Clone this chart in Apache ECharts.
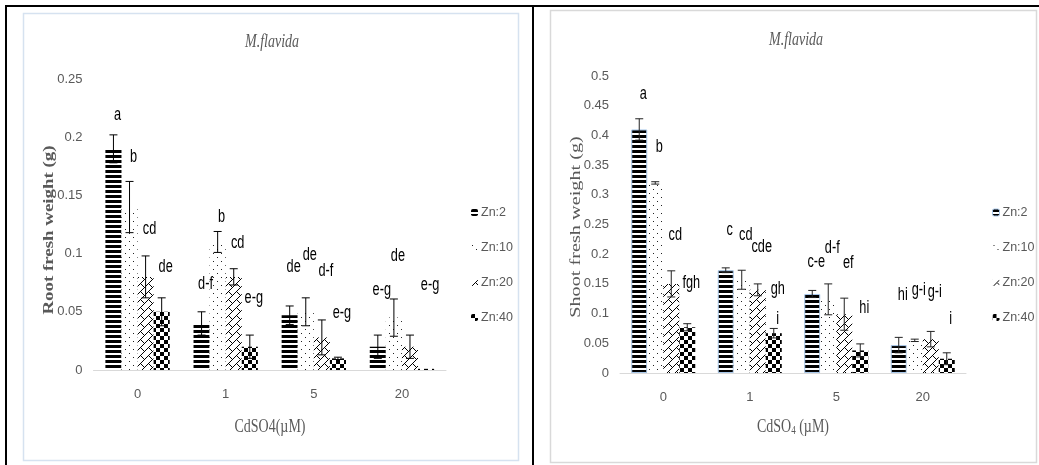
<!DOCTYPE html>
<html>
<head>
<meta charset="utf-8">
<script src="https://cdn.jsdelivr.net/npm/echarts@6/dist/echarts.min.js"></script>
<style>
  html, body { margin: 0; padding: 0; background: #fff; }
  #chart { width: 1039px; height: 465px; }
</style>
</head>
<body>
<div id="chart"></div>
<script>
// Cd treatment levels (x categories) and Zn treatment levels (series)
const cdLevels = ['0', '1', '5', '20'];
const znLevels = ['Zn:2', 'Zn:10', 'Zn:20', 'Zn:40'];

// Root fresh weight (g), mean per Cd level
const rootZn2  = [0.190, 0.040, 0.047, 0.020];
const rootZn10 = [0.140, 0.110, 0.050, 0.045];
const rootZn20 = [0.080, 0.080, 0.028, 0.020];
const rootZn40 = [0.050, 0.020, 0.010, 0.001];
// Root fresh weight error
const rootErr2  = [0.012, 0.010, 0.008, 0.010];
const rootErr10 = [0.022, 0.009, 0.012, 0.016];
const rootErr20 = [0.018, 0.007, 0.015, 0.010];
const rootErr40 = [0.012, 0.010, 0.001, 0.000];

// Shoot fresh weight (g), mean per Cd level
const shootZn2  = [0.410, 0.173, 0.133, 0.047];
const shootZn10 = [0.320, 0.157, 0.124, 0.055];
const shootZn20 = [0.150, 0.140, 0.099, 0.057];
const shootZn40 = [0.077, 0.067, 0.038, 0.024];
// Shoot fresh weight error
const shootErr2  = [0.018, 0.004, 0.006, 0.013];
const shootErr10 = [0.002, 0.016, 0.026, 0.002];
const shootErr20 = [0.022, 0.010, 0.027, 0.013];
const shootErr40 = [0.006, 0.008, 0.011, 0.010];

// Significance letters: [Cd index, Zn index, height (g), letters]
const rootLetters = [
  [0, 0, 0.219, 'a'], [0, 1, 0.183, 'b'], [0, 2, 0.121, 'cd'], [0, 3, 0.0885, 'de'],
  [1, 0, 0.074, 'd-f'], [1, 1, 0.132, 'b'], [1, 2, 0.109, 'cd'], [1, 3, 0.062, 'e-g'],
  [2, 0, 0.089, 'de'], [2, 1, 0.099, 'de'], [2, 2, 0.085, 'd-f'], [2, 3, 0.049, 'e-g'],
  [3, 0, 0.069, 'e-g'], [3, 1, 0.098, 'de'], [3, 3, 0.073, 'e-g']
];
const shootLetters = [
  [0, 0, 0.470, 'a'], [0, 1, 0.380, 'b'], [0, 2, 0.232, 'cd'], [0, 3, 0.152, 'fgh'],
  [1, 0, 0.241, 'c'], [1, 1, 0.232, 'cd'], [1, 2, 0.212, 'cde'], [1, 3, 0.141, 'gh'], [1, 3, 0.092, 'i'],
  [2, 0, 0.187, 'c-e'], [2, 1, 0.210, 'd-f'], [2, 2, 0.185, 'ef'], [2, 3, 0.109, 'hi'],
  [3, 0, 0.131, 'hi'], [3, 1, 0.140, 'g-i'], [3, 2, 0.137, 'g-i'], [3, 3, 0.092, 'i']
];

// Axis ranges
const rootMax = 0.25, shootMax = 0.5, tickStep = 0.05;

const rootMeans = [rootZn2, rootZn10, rootZn20, rootZn40];
const rootErrs = [rootErr2, rootErr10, rootErr20, rootErr40];
const shootMeans = [shootZn2, shootZn10, shootZn20, shootZn40];
const shootErrs = [shootErr2, shootErr10, shootErr20, shootErr40];

// ---- fill patterns (one per Zn level) ----
function makeCanvas(w, h, draw) {
  const c = document.createElement('canvas');
  c.width = w; c.height = h;
  const ctx = c.getContext('2d');
  ctx.fillStyle = '#fff';
  ctx.fillRect(0, 0, w, h);
  draw(ctx);
  return c;
}
// horizontal stripes
const stripeTile = makeCanvas(8, 5, ctx => {
  ctx.fillStyle = '#000';
  ctx.fillRect(0, 0, 8, 3);
});
// sparse dots
const dotTile = makeCanvas(8, 8, ctx => {
  ctx.fillStyle = '#222';
  ctx.fillRect(1, 1, 1, 1);
  ctx.fillRect(5, 5, 1, 1);
});
// diagonal brick
const brickTile = makeCanvas(8, 8, ctx => {
  ctx.fillStyle = '#000';
  for (let i = 0; i < 8; i++) ctx.fillRect(i, 7 - i, 1, 1);
  for (let i = 0; i < 4; i++) ctx.fillRect(4 + i, 3 + i, 1, 1);
});
// large checkerboard
const checkTile = makeCanvas(8, 8, ctx => {
  ctx.fillStyle = '#000';
  ctx.fillRect(0, 0, 4, 4);
  ctx.fillRect(4, 4, 4, 4);
});
const fills = [stripeTile, dotTile, brickTile, checkTile].map(img => ({ image: img, repeat: 'repeat' }));

const GREY = '#595959';
const SANS = "'Liberation Sans', Arial, sans-serif";
const SERIF = "'Liberation Serif', 'DejaVu Serif', serif";
const LETTER_DX = 4;

const rootGap = 0.27, shootGap = 0.26;

// centre x of the bar in a given Zn slot of a Cd category
function slotX(api, cat, slot, gap) {
  const c = api.coord([cat, 0])[0];
  const band = api.size([1, 0])[0];
  const bw = band * (1 - gap) / 4;
  return c - 2 * bw + bw * (slot + 0.5);
}

function errorSeries(means, errs, axis, gap, color) {
  const data = [];
  means.forEach((arr, s) => arr.forEach((v, i) => data.push([i, v, errs[s][i], s])));
  return {
    type: 'custom', name: 'err' + axis, xAxisIndex: axis, yAxisIndex: axis, z: 4, clip: false,
    silent: true,
    data: data,
    renderItem: function (params, api) {
      const cat = api.value(0), v = api.value(1), e = api.value(2), s = api.value(3);
      if (!(e > 0)) return;
      const x = slotX(api, cat, s, gap);
      const yT = api.coord([cat, v + e])[1];
      const yB = api.coord([cat, Math.max(0, v - e)])[1];
      const st = { stroke: color, lineWidth: 1 };
      return {
        type: 'group',
        children: [
          { type: 'line', shape: { x1: x, y1: yT, x2: x, y2: yB }, style: st },
          { type: 'line', shape: { x1: x - 4, y1: yT, x2: x + 4, y2: yT }, style: st },
          { type: 'line', shape: { x1: x - 4, y1: yB, x2: x + 4, y2: yB }, style: st }
        ]
      };
    }
  };
}

function letterSeries(list, axis, gap) {
  return {
    type: 'custom', name: 'letters' + axis, xAxisIndex: axis, yAxisIndex: axis, z: 5, clip: false,
    silent: true,
    data: list.map(d => [d[0], d[2], d[1]]),
    renderItem: function (params, api) {
      const cat = api.value(0), h = api.value(1), s = api.value(2);
      const x = slotX(api, cat, s, gap) + LETTER_DX;
      const y = api.coord([cat, h])[1];
      return {
        type: 'text', x: x, y: y, scaleX: 0.85, scaleY: 1.25,
        style: {
          text: list[params.dataIndex][3], fill: '#000',
          font: '15px ' + SANS, align: 'center', verticalAlign: 'middle'
        }
      };
    }
  };
}

function barSeries(means, axis, gap, border) {
  return means.map((arr, s) => ({
    type: 'bar', name: znLevels[s], xAxisIndex: axis, yAxisIndex: axis,
    barGap: '0%', barCategoryGap: (gap * 100) + '%',
    data: arr,
    itemStyle: Object.assign({ color: fills[s] },
      (border && s === 0) ? { borderColor: '#a9c8ea', borderWidth: 1 } : {}),
    emphasis: { disabled: true }
  }));
}

function xAxis(grid) {
  return {
    type: 'category', gridIndex: grid, data: cdLevels,
    axisLine: { lineStyle: { color: '#d9d9d9', width: 1 } },
    axisTick: { show: false },
    axisLabel: { color: GREY, fontFamily: SANS, fontSize: 13, margin: 18 }
  };
}
function yAxis(grid, max) {
  return {
    type: 'value', gridIndex: grid, min: 0, max: max, interval: tickStep,
    axisLine: { show: false }, axisTick: { show: false }, splitLine: { show: false },
    axisLabel: { color: GREY, fontFamily: SANS, fontSize: 13, margin: 11 }
  };
}
function legend(left, rightPanel) {
  return {
    orient: 'vertical', left: left, top: 201, itemWidth: 7, itemHeight: 7, itemGap: 22,
    selectedMode: false,
    textStyle: { color: GREY, fontFamily: SANS, fontSize: 12.5, padding: [0, 0, 0, -2] },
    data: znLevels.map((n, s) => rightPanel && s === 0
      ? { name: n, itemStyle: { color: fills[0], borderColor: '#a9c8ea', borderWidth: 1 } }
      : { name: n })
  };
}

function gText(x, y, text, font, extra) {
  return Object.assign({
    type: 'text', x: x, y: y, silent: true,
    style: { text: text, font: font, fill: GREY, align: 'center', verticalAlign: 'middle' }
  }, extra || {});
}

const chart = echarts.init(document.getElementById('chart'), null, { renderer: 'canvas' });

chart.setOption({
  animation: false,
  backgroundColor: '#fff',
  grid: [
    { left: 93.5, top: 79, width: 352.5, height: 291 },
    { left: 620, top: 76, width: 346, height: 297 }
  ],
  xAxis: [xAxis(0), xAxis(1)],
  yAxis: [yAxis(0, rootMax), yAxis(1, shootMax)],
  legend: [legend(466, false), legend(987, true)],
  series: [].concat(
    barSeries(rootMeans, 0, rootGap, false),
    barSeries(shootMeans, 1, shootGap, true),
    [errorSeries(rootMeans, rootErrs, 0, rootGap, '#000'),
     errorSeries(shootMeans, shootErrs, 1, shootGap, '#222'),
     letterSeries(rootLetters, 0, rootGap),
     letterSeries(shootLetters, 1, shootGap)]
  ),
  graphic: [
    // panel frames
    { type: 'rect', silent: true, z: -10, shape: { x: 23.5, y: 13.5, width: 495, height: 447 },
      style: { fill: 'none', stroke: '#d6e2f0', lineWidth: 1.5 } },
    { type: 'rect', silent: true, z: -10, shape: { x: 550.5, y: 10.5, width: 486, height: 452 },
      style: { fill: 'none', stroke: '#d9d9d9', lineWidth: 1.5 } },
    // table rules
    { type: 'rect', silent: true, shape: { x: 5, y: 5, width: 1034, height: 2 }, style: { fill: '#000' } },
    { type: 'rect', silent: true, shape: { x: 5, y: 5, width: 2, height: 460 }, style: { fill: '#000' } },
    { type: 'rect', silent: true, shape: { x: 532, y: 5, width: 2, height: 460 }, style: { fill: '#000' } },
    // titles
    gText(272, 42, 'M.flavida', 'italic 14px ' + SERIF, { scaleY: 1.3 }),
    gText(796, 40, 'M.flavida', 'italic 14px ' + SERIF, { scaleY: 1.3 }),
    // axis names
    gText(270, 427, 'CdSO4(µM)', '14px ' + SERIF, { scaleY: 1.3 }),
    {
      type: 'text', x: 793, y: 427, silent: true, scaleY: 1.3,
      style: {
        text: '{a|CdSO}{s|4}{a| (µM)}', align: 'center', verticalAlign: 'middle',
        rich: {
          a: { font: '14px ' + SERIF, fill: GREY },
          s: { font: '9px ' + SERIF, fill: GREY, padding: [6, 0, 0, 0] }
        }
      }
    },
    gText(49, 230, 'Root fresh weight (g)', 'bold 14px ' + SERIF, { rotation: Math.PI / 2, scaleX: 1.35 }),
    gText(576, 227, 'Shoot fresh weight (g)', '15px ' + SERIF, { rotation: Math.PI / 2, scaleX: 1.35 })
  ]
});
</script>
</body>
</html>
